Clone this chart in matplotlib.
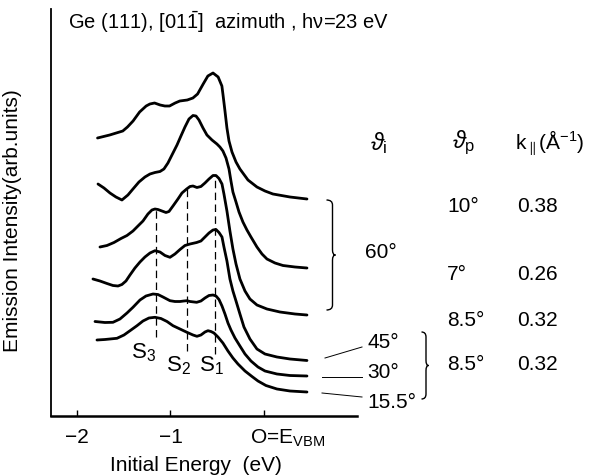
import matplotlib
matplotlib.use('Agg')
import matplotlib.pyplot as plt
from matplotlib.path import Path
from matplotlib.patches import PathPatch
from matplotlib.lines import Line2D
import matplotlib.transforms as mtransforms

plt.rcParams['font.family'] = ['Liberation Sans', 'DejaVu Sans']
plt.rcParams['mathtext.fontset'] = 'custom'
plt.rcParams['mathtext.rm'] = 'Liberation Sans'
plt.rcParams['mathtext.it'] = 'Liberation Sans:italic'
plt.rcParams['mathtext.bf'] = 'Liberation Sans:bold'

# spectra: energy (eV) and intensity (arb. units, offsets included)
e_a = [-1.78, -1.65, -1.51, -1.46, -1.40, -1.33, -1.26, -1.22, -1.17, -1.11, -1.06, -1.01, -0.95,
       -0.90, -0.82, -0.76, -0.71, -0.65, -0.60, -0.545, -0.49, -0.45, -0.439, -0.417, -0.396,
       -0.374, -0.342, -0.299, -0.257, -0.171, -0.075, 0.011, 0.096, 0.278, 0.46]
i_a = [278, 281, 285, 289, 295, 304, 310, 312, 313, 311, 310, 310, 313,
       315, 316, 318, 322, 332, 340, 343, 339, 330, 322, 305, 288,
       275, 264, 254, 247, 236, 229, 225, 222, 219, 217]

e_b = [-1.775, -1.711, -1.647, -1.583, -1.519, -1.455, -1.401, -1.337, -1.273, -1.219, -1.166,
       -1.112, -1.070, -1.027, -0.984, -0.930, -0.888, -0.845, -0.802, -0.759, -0.727, -0.695,
       -0.652, -0.610, -0.556, -0.503, -0.471, -0.439, -0.406, -0.374, -0.353, -0.332, -0.299,
       -0.267, -0.225, -0.182, -0.139, -0.075, -0.021, 0.032, 0.118, 0.203, 0.332, 0.460]
i_b = [232, 228, 223, 219, 216, 221, 227, 234, 239, 242, 243.5,
       244.5, 247, 253, 261, 271, 280, 289, 297, 300.5, 300, 296,
       288, 281, 276, 272, 269, 265, 258, 247, 235, 224, 214,
       204, 194, 186, 179, 169, 162, 157, 153, 150.5, 149, 148]

e_c = [-1.754, -1.679, -1.604, -1.529, -1.465, -1.401, -1.337, -1.294, -1.241, -1.198, -1.166,
       -1.134, -1.091, -1.048, -1.016, -0.973, -0.920, -0.877, -0.827, -0.791, -0.759, -0.717,
       -0.674, -0.631, -0.588, -0.545, -0.513, -0.481, -0.449, -0.428, -0.396, -0.364, -0.332,
       -0.299, -0.257, -0.203, -0.150, -0.075, 0.032, 0.171, 0.332, 0.460]
i_c = [169, 170.5, 173.5, 177.5, 180.5, 185, 191, 195, 202, 206, 207,
       206.5, 205, 203.5, 204.5, 210, 217, 223, 227, 229.5, 230, 228.5,
       229.5, 233, 237, 240.5, 240.5, 237.5, 232, 222, 205, 185, 167,
       152, 137, 125, 117, 111, 107, 104, 102, 101]

e_d = [-1.829, -1.754, -1.679, -1.615, -1.561, -1.519, -1.476, -1.433, -1.380, -1.326, -1.273,
       -1.219, -1.166, -1.112, -1.059, -1.005, -0.952, -0.898, -0.845, -0.791, -0.720, -0.674,
       -0.631, -0.588, -0.545, -0.513, -0.481, -0.449, -0.428, -0.396, -0.364, -0.332, -0.299,
       -0.257, -0.214, -0.150, -0.075, 0.011, 0.139, 0.278, 0.460]
i_d = [137, 135, 132.5, 130.5, 130, 131.5, 135, 141, 148, 154, 159,
       163, 165.3, 164, 160.5, 158.7, 162, 166.5, 170.5, 172, 173.5, 175,
       179, 183, 186, 186.5, 183.5, 179, 169, 155, 137, 125, 115,
       102, 89, 77, 67, 62, 59, 57, 55.5]

e_e = [-1.807, -1.701, -1.615, -1.540, -1.465, -1.401, -1.326, -1.262, -1.187, -1.134, -1.080,
       -1.005, -0.952, -0.898, -0.856, -0.824, -0.791, -0.720, -0.674, -0.631, -0.588, -0.545,
       -0.513, -0.481, -0.449, -0.417, -0.385, -0.353, -0.310, -0.257, -0.203, -0.139, -0.064,
       0.011, 0.139, 0.278, 0.460]
i_e = [94.5, 93.5, 93.7, 97, 103, 108.7, 116, 120, 122, 121.5, 119,
       115.3, 114.5, 114.5, 115, 115.3, 114.5, 113.7, 115, 118, 120.5, 121,
       120, 116.5, 110, 102, 93, 86, 78, 70, 62, 55, 49,
       45, 42, 40.5, 40]

e_f = [-1.786, -1.701, -1.572, -1.497, -1.422, -1.358, -1.294, -1.230, -1.166, -1.102, -1.037,
       -0.973, -0.898, -0.824, -0.759, -0.717, -0.674, -0.631, -0.599, -0.567, -0.535, -0.492,
       -0.439, -0.385, -0.332, -0.278, -0.203, -0.128, -0.064, 0.021, 0.139, 0.278, 0.460]
i_f = [76, 76.5, 77.7, 81, 86, 90.3, 95, 98, 98.7, 97.5, 94.5,
       90.3, 87, 83.7, 81, 79.7, 81, 84, 85.3, 84.5, 83, 79,
       73, 65, 58, 52, 45, 39.5, 35, 30.5, 27, 25, 24]

# surface state positions S3, S2, S1 and the extent of their dashed markers
s_energy = [-1.155, -0.827, -0.524]
s_top = [206, 227, 241]
s_bottom = [79, 65, 62]
s_names = ['S$_3$', 'S$_2$', 'S$_1$']

theta_i = ['60°', '45°', '30°', '15.5°']
theta_p = ['10°', '7°', '8.5°', '8.5°']
k_par = ['0.38', '0.26', '0.32', '0.32']

W, H = 591, 477
fig = plt.figure(figsize=(W / 100, H / 100), dpi=100)


def px(x, y):
    return x / W, 1 - y / H


l, b = px(50.5, 417)
r, t = px(357, 10)
ax = fig.add_axes([l, b, r - l, t - b])

for e, i in [(e_a, i_a), (e_b, i_b), (e_c, i_c), (e_d, i_d), (e_e, i_e), (e_f, i_f)]:
    ax.plot(e, i, color='black', lw=2.0, solid_capstyle='round', solid_joinstyle='round')

for e, top, bot in zip(s_energy, s_top, s_bottom):
    ax.plot([e, e], [bot, top], color='black', lw=0.9, dashes=(6, 3.5))

ax.set_xlim(-2.283, 0.995)
ax.set_ylim(0, 407)
ax.spines['top'].set_visible(False)
ax.spines['right'].set_visible(False)
ax.spines['left'].set_linewidth(1.3)
ax.spines['bottom'].set_linewidth(1.8)
ax.set_yticks([])
ax.set_xticks([-2, -1, 0])
ax.set_xticklabels(['\u22122', '\u22121', 'O=E$_{\\mathrm{VBM}}$'])
ax.tick_params(axis='x', direction='in', length=4, width=1, pad=8, labelsize=15)
lab0 = ax.get_xticklabels()[2]
lab0.set_horizontalalignment('left')
lab0.set_transform(lab0.get_transform() + mtransforms.ScaledTranslation(-0.14, 0, fig.dpi_scale_trans))

fs = 15
# S labels
for name, (x, y) in zip(s_names, [(143, 353), (178, 366), (211, 366)]):
    fig.text(*px(x, y), name, ha='center', va='center', fontsize=16)

fig.text(*px(68, 22), 'Ge (111), [01$\\bar{\\mathrm{1}}$]  azimuth , h\u03bd=23 eV',
         ha='left', va='center', fontsize=14.5)
fig.text(*px(196, 466), 'Initial Energy  (eV)', ha='center', va='center', fontsize=fs)
fig.text(*px(13, 221), 'Emission Intensity(arb.units)', ha='center', va='center',
         rotation=90, fontsize=fs)

# column headers
fig.text(*px(370, 143), '$\\vartheta_{\\mathrm{i}}$', ha='left', va='center', fontsize=17)
fig.text(*px(452, 143), '$\\vartheta_{\\mathrm{p}}$', ha='left', va='center', fontsize=17)
fig.text(*px(515, 143), 'k$_{\\parallel}$(Å$^{-1}$)', ha='left', va='center', fontsize=fs)

fig.text(*px(365, 253), theta_i[0], ha='left', va='center', fontsize=fs)
for s, y in zip(theta_i[1:], [343, 373, 402]):
    fig.text(*px(367, y), s, ha='left', va='center', fontsize=fs)
for s, k, y in zip(theta_p, k_par, [207, 275, 320, 365]):
    fig.text(*px(447, y), s, ha='left', va='center', fontsize=fs)
    fig.text(*px(517, y), k, ha='left', va='center', fontsize=fs)


def brace(x0, ytop, ybot, xs, xt, rr=5):
    ym = (ytop + ybot) / 2
    pts = [(x0, ytop), (xs, ytop), (xs, ytop + rr), (xs, ym - rr), (xs, ym), (xt, ym),
           (xs, ym), (xs, ym + rr), (xs, ybot - rr), (xs, ybot), (x0, ybot)]
    codes = [Path.MOVETO, Path.CURVE3, Path.CURVE3, Path.LINETO, Path.CURVE3, Path.CURVE3,
             Path.CURVE3, Path.CURVE3, Path.LINETO, Path.CURVE3, Path.CURVE3]
    path = Path([px(*p) for p in pts], codes)
    fig.add_artist(PathPatch(path, transform=fig.transFigure, fill=False, lw=1.0, color='black'))


brace(326.5, 201, 311, 332.5, 335.5)
brace(421.5, 333, 400, 426, 428.5)

for (x1, y1), (x2, y2) in [((325, 359), (362, 348)), ((322, 378), (362, 378)), ((322, 394), (362, 398))]:
    a1, b1 = px(x1, y1)
    a2, b2 = px(x2, y2)
    fig.add_artist(Line2D([a1, a2], [b1, b2], transform=fig.transFigure, lw=0.7, color='black'))

fig.savefig('out.png', dpi=100)
plt.close(fig)
